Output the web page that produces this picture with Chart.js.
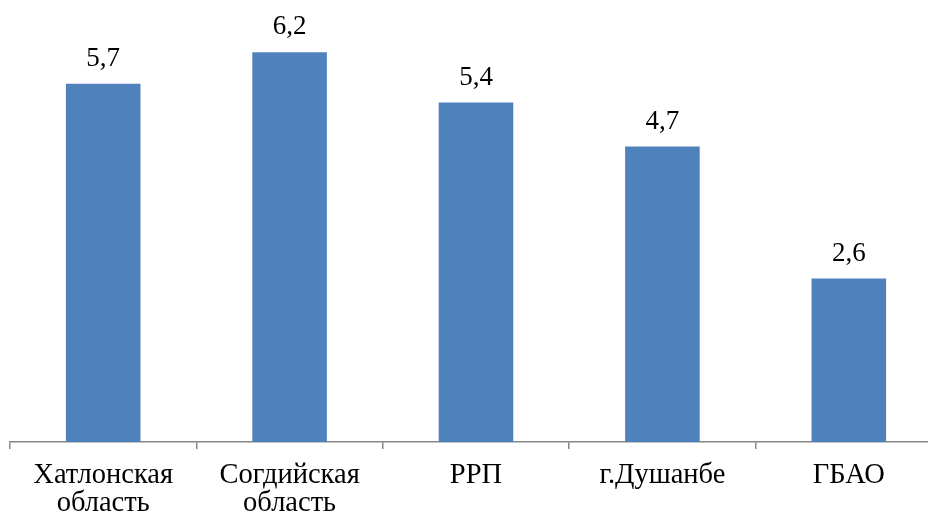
<!DOCTYPE html>
<html><head><meta charset="utf-8">
<script src="https://cdn.jsdelivr.net/npm/chart.js@4"></script>
<style>html,body{margin:0;padding:0;overflow:hidden;background:#fff}#wrap{width:944px;height:514px;position:relative}</style>
</head><body><div id="wrap"><canvas id="c"></canvas></div>
<script>
const categories = [['Хатлонская','область'],['Согдийская','область'],'РРП','г.Душанбе','ГБАО'];
const values = [5.7, 6.2, 5.4, 4.7, 2.6];
const valueLabels = ['5,7','6,2','5,4','4,7','2,6'];

const labelPlugin = {
  id:'vals',
  afterDatasetsDraw(chart){
    const ctx = chart.ctx;
    const meta = chart.getDatasetMeta(0);
    ctx.save();
    ctx.font = '27px "Liberation Serif"';
    ctx.fillStyle = '#000';
    ctx.textAlign = 'center';
    ctx.textBaseline = 'alphabetic';
    meta.data.forEach((b,i)=>{ ctx.fillText(valueLabels[i], b.x, b.y - 18); });
    ctx.restore();
  }
};

new Chart(document.getElementById('c'), {
  type:'bar',
  data:{labels:categories, datasets:[{data:values, backgroundColor:'#4F81BD', barPercentage:0.4, categoryPercentage:1}]},
  options:{
    responsive:true, maintainAspectRatio:false, animation:false,
    layout:{padding:{left:10,right:2,top:2,bottom:0}},
    plugins:{legend:{display:false}, tooltip:{enabled:false}},
    scales:{
      y:{display:false, min:0, max:7},
      x:{
        offset:true,
        afterFit(scale){ scale.height = 72; },
        border:{color:'#868686', width:1.5},
        grid:{offset:true, drawOnChartArea:false, drawTicks:true, tickLength:7, color:'#868686', lineWidth:1.5},
        ticks:{color:'#000', font:{family:'"Liberation Serif"', size:28.5, lineHeight:0.97}, padding:13, maxRotation:0, autoSkip:false}
      }
    }
  },
  plugins:[labelPlugin]
});
</script></body></html>
